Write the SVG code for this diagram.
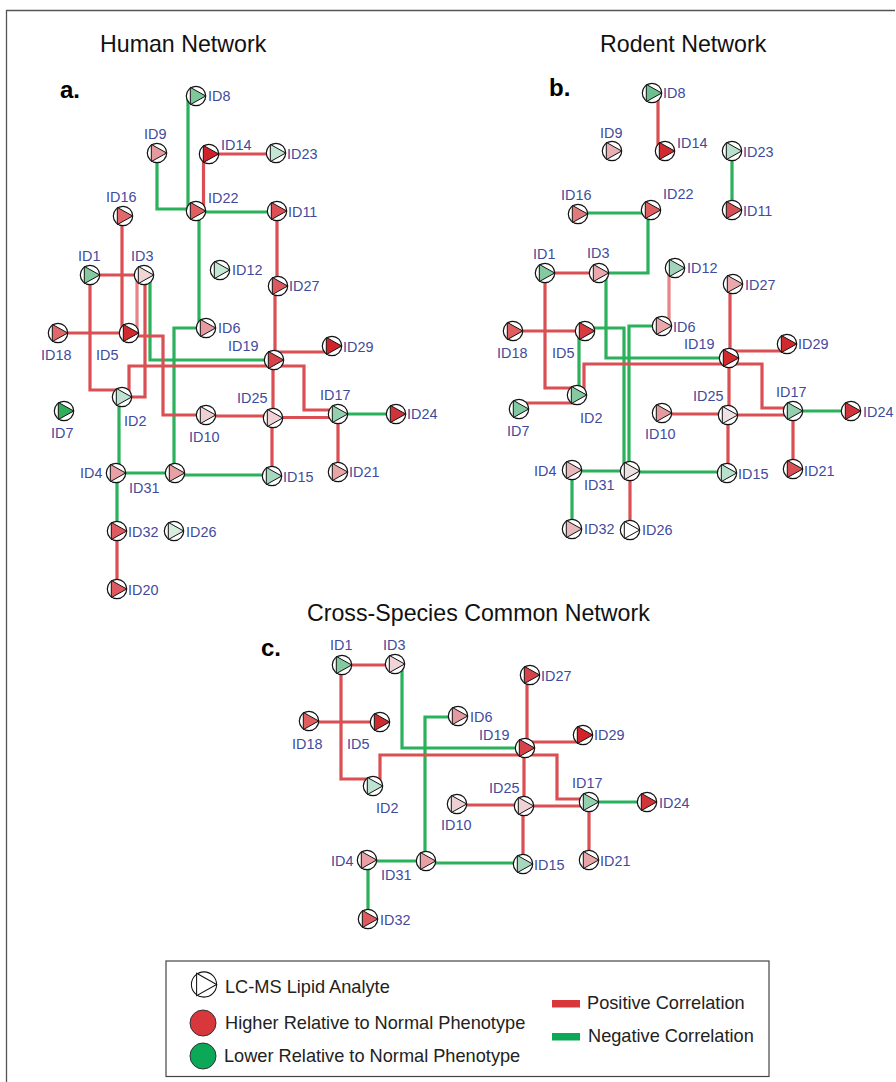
<svg xmlns="http://www.w3.org/2000/svg" width="896" height="1082" viewBox="0 0 896 1082">
<style>
text{font-family:"Liberation Sans",Arial,sans-serif}
.l{font-size:14.4px;fill:#3f4a9e}
.t{font-size:23.2px;fill:#111}
.h{font-size:24px;font-weight:bold;fill:#000}
.g{font-size:18.2px;fill:#222}
.r,.v,.p{fill:none;stroke-width:3.2;stroke-linejoin:miter}
.r{stroke:#d94f53}
.v{stroke:#2bb05c}
.p{stroke:#e88487}
</style>
<defs>
<g id="n"><circle r="9.7" fill="#fff" stroke="#111" stroke-width="1.2"/><polygon points="-5.7,-8.6 9.7,0 -5.7,8.6" stroke="#111" stroke-width="1"/></g>
</defs>
<rect width="896" height="1082" fill="#fff"/>
<path d="M6.500 1082V10.500H895" fill="none" stroke="#555" stroke-width="1.300"/>
<g id="titles">
<text class="t" x="100" y="52">Human Network</text>
<text class="t" x="600" y="52">Rodent Network</text>
<text class="t" x="307" y="621">Cross-Species Common Network</text>
<text class="h" x="60" y="98">a.</text>
<text class="h" x="549" y="96">b.</text>
<text class="h" x="261" y="656">c.</text>
</g>
<g id="connectors">
<g id="conn-a">
<path class="v" d="M188 96V211M157 153V209H196M196 212H277M199 212V328M174 473V328H206M119 397V473M150 275V360H274M116 473H175M175 475H272M117 473V531M338 414H396"/>
<path class="r" d="M209 154H276M203.500 154V211M122 216V333M277 211V286M275 286V360M90 275H144M90 275V390H122M145 275V397H122M58 333H129M129 336H163V415H206M129 397V366H304V410H338M274 352H332M273 360V418M206 416H273M273 417.500H338M272 418V476M338 414V472M117 531V589"/>
<path class="p" d="M137 275V333"/>
</g>
<g id="conn-b">
<path class="v" d="M732 151V210M578 213H649V210M648 210V273H598M579 331V394M606 273V358H729M585 328H624V471M662 326H629V471M572 471H630M630 472H727M572 470V529M793 411H851"/>
<path class="r" d="M658 93V151M545 273H598M545 273V388H577M513 331H585M519 403H577M584 395V364H762V408H793M730 284V358M729 351H787M729 358V415M662 414H728M728 415H793M728 415V473M793 411V469M630 471V530"/>
<path class="p" d="M669 267V326"/>
</g>
<g id="conn-c">
<path class="v" d="M402 664V748H525M458 717H425V861M367 861H426M426 863H523M368 860V919M589 802H647"/>
<path class="r" d="M342 665H395M341 665V779H373M309 722H380M380 786V755H557V799H589M527 675V748M525 742H583M524 748V806M457 805H524M524 806H589M523 806V864M589 802V860"/>
</g>
</g>
<g id="a">
<g id="a-ID8"><use href="#n" x="196" y="96" fill="#7cc89a"/><text class="l" x="208" y="101">ID8</text></g>
<g id="a-ID9"><use href="#n" x="157" y="153" fill="#e59a9e"/><text class="l" x="144" y="139">ID9</text></g>
<g id="a-ID14"><use href="#n" x="209" y="154" fill="#d0202a"/><text class="l" x="221" y="150">ID14</text></g>
<g id="a-ID23"><use href="#n" x="276" y="153" fill="#c5e5d5"/><text class="l" x="287" y="159">ID23</text></g>
<g id="a-ID22"><use href="#n" x="196" y="211" fill="#df5f60"/><text class="l" x="208" y="203">ID22</text></g>
<g id="a-ID11"><use href="#n" x="277" y="211" fill="#dc5055"/><text class="l" x="288" y="217">ID11</text></g>
<g id="a-ID16"><use href="#n" x="123" y="216" fill="#e0696b"/><text class="l" x="106" y="202">ID16</text></g>
<g id="a-ID1"><use href="#n" x="90" y="275" fill="#85c9a0"/><text class="l" x="78" y="261">ID1</text></g>
<g id="a-ID3"><use href="#n" x="144" y="275" fill="#f0d5d5"/><text class="l" x="131" y="261">ID3</text></g>
<g id="a-ID12"><use href="#n" x="220" y="270" fill="#c5e8d5"/><text class="l" x="232" y="275">ID12</text></g>
<g id="a-ID27"><use href="#n" x="278" y="286" fill="#dc5a5f"/><text class="l" x="289" y="291">ID27</text></g>
<g id="a-ID6"><use href="#n" x="206" y="328" fill="#e69a9f"/><text class="l" x="218" y="333">ID6</text></g>
<g id="a-ID18"><use href="#n" x="58" y="333" fill="#e0696b"/><text class="l" x="41" y="360">ID18</text></g>
<g id="a-ID5"><use href="#n" x="129" y="333" fill="#d02a2e"/><text class="l" x="96" y="360">ID5</text></g>
<g id="a-ID19"><use href="#n" x="274" y="360" fill="#d8434a"/><text class="l" x="228" y="351">ID19</text></g>
<g id="a-ID29"><use href="#n" x="332" y="346" fill="#d2232a"/><text class="l" x="343" y="352">ID29</text></g>
<g id="a-ID2"><use href="#n" x="122" y="397" fill="#bfe3d2"/><text class="l" x="124" y="426">ID2</text></g>
<g id="a-ID7"><use href="#n" x="64" y="411" fill="#2fae5c"/><text class="l" x="51" y="438">ID7</text></g>
<g id="a-ID10"><use href="#n" x="206" y="415" fill="#ecd0d4"/><text class="l" x="189" y="442">ID10</text></g>
<g id="a-ID25"><use href="#n" x="273" y="418" fill="#efd2d6"/><text class="l" x="237" y="403">ID25</text></g>
<g id="a-ID17"><use href="#n" x="338" y="414" fill="#95d0ae"/><text class="l" x="320" y="400">ID17</text></g>
<g id="a-ID24"><use href="#n" x="396" y="414" fill="#d2333a"/><text class="l" x="407" y="419">ID24</text></g>
<g id="a-ID4"><use href="#n" x="116" y="473" fill="#e8a0a5"/><text class="l" x="80" y="478">ID4</text></g>
<g id="a-ID31"><use href="#n" x="175" y="473" fill="#e8a0a5"/><text class="l" x="129" y="493">ID31</text></g>
<g id="a-ID15"><use href="#n" x="272" y="476" fill="#a5d8bc"/><text class="l" x="283" y="482">ID15</text></g>
<g id="a-ID21"><use href="#n" x="338" y="472" fill="#e8a5a8"/><text class="l" x="349" y="477">ID21</text></g>
<g id="a-ID32"><use href="#n" x="117" y="531" fill="#df5a60"/><text class="l" x="128" y="537">ID32</text></g>
<g id="a-ID26"><use href="#n" x="174" y="531" fill="#d8ece0"/><text class="l" x="186" y="537">ID26</text></g>
<g id="a-ID20"><use href="#n" x="117" y="589" fill="#df5a60"/><text class="l" x="128" y="595">ID20</text></g>
</g>
<g id="b">
<g id="b-ID8"><use href="#n" x="652" y="93" fill="#6cc090"/><text class="l" x="663" y="98">ID8</text></g>
<g id="b-ID14"><use href="#n" x="665" y="151" fill="#d02a2e"/><text class="l" x="677" y="148">ID14</text></g>
<g id="b-ID9"><use href="#n" x="612" y="151" fill="#e9b0b4"/><text class="l" x="600" y="138">ID9</text></g>
<g id="b-ID23"><use href="#n" x="732" y="151" fill="#b8e0cc"/><text class="l" x="743" y="157">ID23</text></g>
<g id="b-ID11"><use href="#n" x="732" y="210" fill="#d85055"/><text class="l" x="743" y="216">ID11</text></g>
<g id="b-ID16"><use href="#n" x="578" y="214" fill="#e07a7c"/><text class="l" x="561" y="200">ID16</text></g>
<g id="b-ID22"><use href="#n" x="651" y="210" fill="#df5f60"/><text class="l" x="663" y="199">ID22</text></g>
<g id="b-ID1"><use href="#n" x="545" y="273" fill="#85c9a0"/><text class="l" x="533" y="259">ID1</text></g>
<g id="b-ID3"><use href="#n" x="599" y="273" fill="#e8a8ac"/><text class="l" x="587" y="258">ID3</text></g>
<g id="b-ID12"><use href="#n" x="675" y="268" fill="#a0d5bb"/><text class="l" x="687" y="273">ID12</text></g>
<g id="b-ID27"><use href="#n" x="733" y="284" fill="#e8a8ac"/><text class="l" x="745" y="290">ID27</text></g>
<g id="b-ID6"><use href="#n" x="662" y="326" fill="#e8a8ac"/><text class="l" x="673" y="332">ID6</text></g>
<g id="b-ID18"><use href="#n" x="513" y="331" fill="#df5f60"/><text class="l" x="497" y="358">ID18</text></g>
<g id="b-ID5"><use href="#n" x="585" y="331" fill="#d83a40"/><text class="l" x="552" y="358">ID5</text></g>
<g id="b-ID19"><use href="#n" x="729" y="358" fill="#d02a2e"/><text class="l" x="684" y="349">ID19</text></g>
<g id="b-ID29"><use href="#n" x="787" y="344" fill="#d02a2e"/><text class="l" x="798" y="349">ID29</text></g>
<g id="b-ID2"><use href="#n" x="577" y="395" fill="#85c9a0"/><text class="l" x="580" y="423">ID2</text></g>
<g id="b-ID7"><use href="#n" x="519" y="409" fill="#80c8a0"/><text class="l" x="507" y="436">ID7</text></g>
<g id="b-ID10"><use href="#n" x="662" y="413" fill="#e59a9e"/><text class="l" x="645" y="439">ID10</text></g>
<g id="b-ID25"><use href="#n" x="728" y="415" fill="#efe2e4"/><text class="l" x="693" y="401">ID25</text></g>
<g id="b-ID17"><use href="#n" x="793" y="411" fill="#95d0ae"/><text class="l" x="776" y="397">ID17</text></g>
<g id="b-ID24"><use href="#n" x="851" y="411" fill="#d2333a"/><text class="l" x="863" y="417">ID24</text></g>
<g id="b-ID4"><use href="#n" x="572" y="470" fill="#e9b8bc"/><text class="l" x="534" y="476">ID4</text></g>
<g id="b-ID31"><use href="#n" x="630" y="471" fill="#efe2e4"/><text class="l" x="584" y="490">ID31</text></g>
<g id="b-ID15"><use href="#n" x="727" y="473" fill="#b8e0cc"/><text class="l" x="738" y="479">ID15</text></g>
<g id="b-ID21"><use href="#n" x="793" y="469" fill="#d85055"/><text class="l" x="804" y="476">ID21</text></g>
<g id="b-ID32"><use href="#n" x="572" y="529" fill="#e9b8bc"/><text class="l" x="584" y="534">ID32</text></g>
<g id="b-ID26"><use href="#n" x="630" y="530" fill="#fff"/><text class="l" x="642" y="535">ID26</text></g>
</g>
<g id="c">
<g id="c-ID1"><use href="#n" x="342" y="665" fill="#85c9a0"/><text class="l" x="330" y="650">ID1</text></g>
<g id="c-ID3"><use href="#n" x="395" y="664" fill="#efd5d8"/><text class="l" x="383" y="650">ID3</text></g>
<g id="c-ID27"><use href="#n" x="530" y="675" fill="#d8434a"/><text class="l" x="541" y="681">ID27</text></g>
<g id="c-ID6"><use href="#n" x="458" y="716" fill="#e69a9f"/><text class="l" x="470" y="722">ID6</text></g>
<g id="c-ID18"><use href="#n" x="309" y="721" fill="#df5f60"/><text class="l" x="292" y="749">ID18</text></g>
<g id="c-ID5"><use href="#n" x="380" y="722" fill="#d02a2e"/><text class="l" x="347" y="749">ID5</text></g>
<g id="c-ID19"><use href="#n" x="525" y="748" fill="#d8434a"/><text class="l" x="479" y="740">ID19</text></g>
<g id="c-ID29"><use href="#n" x="583" y="735" fill="#d2232a"/><text class="l" x="594" y="740">ID29</text></g>
<g id="c-ID2"><use href="#n" x="373" y="786" fill="#bfe3d2"/><text class="l" x="376" y="813">ID2</text></g>
<g id="c-ID10"><use href="#n" x="457" y="804" fill="#ecd0d4"/><text class="l" x="441" y="830">ID10</text></g>
<g id="c-ID25"><use href="#n" x="524" y="806" fill="#efd2d6"/><text class="l" x="489" y="793">ID25</text></g>
<g id="c-ID17"><use href="#n" x="589" y="802" fill="#95d0ae"/><text class="l" x="572" y="788">ID17</text></g>
<g id="c-ID24"><use href="#n" x="647" y="802" fill="#d2333a"/><text class="l" x="659" y="808">ID24</text></g>
<g id="c-ID4"><use href="#n" x="367" y="860" fill="#e8a0a5"/><text class="l" x="331" y="866">ID4</text></g>
<g id="c-ID31"><use href="#n" x="426" y="861" fill="#e8a0a5"/><text class="l" x="381" y="880">ID31</text></g>
<g id="c-ID15"><use href="#n" x="523" y="864" fill="#a5d8bc"/><text class="l" x="534" y="870">ID15</text></g>
<g id="c-ID21"><use href="#n" x="589" y="860" fill="#e8a5a8"/><text class="l" x="600" y="866">ID21</text></g>
<g id="c-ID32"><use href="#n" x="368" y="919" fill="#df5a60"/><text class="l" x="380" y="925">ID32</text></g>
</g>
<g id="legend">
<rect x="166" y="961" width="603" height="115.500" fill="#fff" stroke="#444" stroke-width="1.200"/>
<g transform="translate(204 984.500) scale(1.300)"><circle r="9.700" fill="#fff" stroke="#111" stroke-width="0.800"/><polygon points="-5.700,-8.600 9.700,0 -5.700,8.600" fill="#fff" stroke="#111" stroke-width="0.800"/></g>
<circle cx="203" cy="1023" r="13" fill="#d8373c" stroke="#333"/>
<circle cx="203" cy="1056" r="13" fill="#0ba858" stroke="#333"/>
<text class="g" x="225" y="993">LC-MS Lipid Analyte</text>
<text class="g" x="225" y="1029">Higher Relative to Normal Phenotype</text>
<text class="g" x="224" y="1062">Lower Relative to Normal Phenotype</text>
<rect x="552" y="1000" width="28" height="7.500" fill="#d8373c"/>
<rect x="552" y="1033" width="28" height="7.500" fill="#0ba858"/>
<text class="g" x="587" y="1009">Positive Correlation</text>
<text class="g" x="588" y="1042">Negative Correlation</text>
</g>
</svg>
